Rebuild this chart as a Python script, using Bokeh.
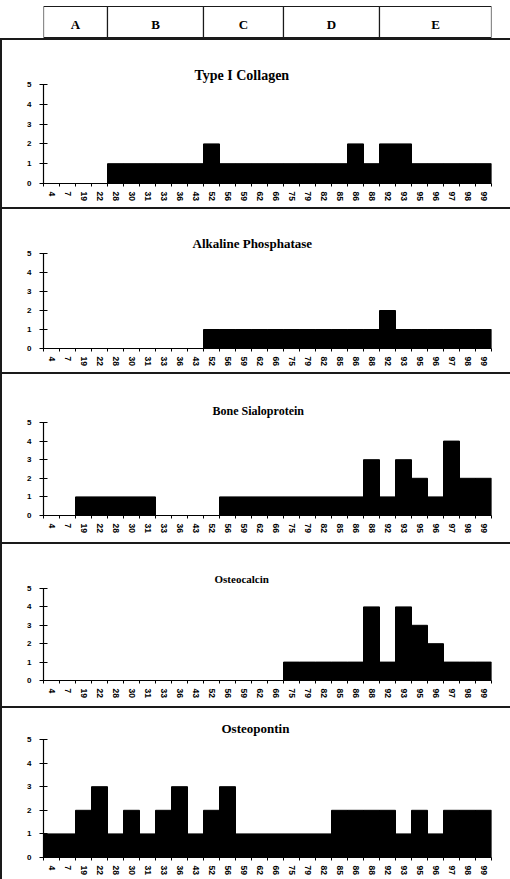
from bokeh.plotting import figure
from bokeh.layouts import column
from bokeh.models import Range1d, LinearAxis, FixedTicker
from bokeh.core.properties import value
from bokeh.embed import file_html
from bokeh.resources import INLINE

# ---------------- data ----------------
categories = ["4", "7", "19", "22", "28", "30", "31", "33", "36", "43", "52", "56",
              "59", "62", "66", "75", "79", "82", "85", "86", "88", "92", "93", "95",
              "96", "97", "98", "99"]

type1_collagen = [0, 0, 0, 0, 1, 1, 1, 1, 1, 1, 2, 1, 1, 1, 1, 1, 1, 1, 1, 2, 1, 2, 2, 1, 1, 1, 1, 1]
alkaline_phosphatase = [0, 0, 0, 0, 0, 0, 0, 0, 0, 0, 1, 1, 1, 1, 1, 1, 1, 1, 1, 1, 1, 2, 1, 1, 1, 1, 1, 1]
bone_sialoprotein = [0, 0, 1, 1, 1, 1, 1, 0, 0, 0, 0, 1, 1, 1, 1, 1, 1, 1, 1, 1, 3, 1, 3, 2, 1, 4, 2, 2]
osteocalcin = [0, 0, 0, 0, 0, 0, 0, 0, 0, 0, 0, 0, 0, 0, 0, 1, 1, 1, 1, 1, 4, 1, 4, 3, 2, 1, 1, 1]
osteopontin = [1, 1, 2, 3, 1, 2, 1, 2, 3, 1, 2, 3, 1, 1, 1, 1, 1, 1, 2, 2, 2, 2, 1, 2, 1, 2, 2, 2]

panel_titles = ["Type I Collagen", "Alkaline Phosphatase", "Bone Sialoprotein",
                "Osteocalcin", "Osteopontin"]
panel_values = [type1_collagen, alkaline_phosphatase, bone_sialoprotein,
                osteocalcin, osteopontin]
y_ticks = [0, 1, 2, 3, 4, 5]

groups = ["A", "B", "C", "D", "E"]
group_first = ["4", "28", "52", "75", "92"]
group_last = ["22", "43", "66", "88", "99"]

# ---------------- layout / style ----------------
W = 510
FL, FR = 43, 19
# (height, border_top, border_bottom, title_offset, title_standoff, title_size)
panel_layout = [
    (169, 46, 24, 151, 4, "14px"),
    (165, 46, 24, 149, 5, "13px"),
    (170, 50, 27, 169, 10, "12px"),
    (164, 46, 26, 171, 8, "11px"),
    (173, 33, 22, 178, 7, "13px"),
]
LINE = "#1a1a1a"
n = len(categories)
slot = list(range(n))                       # category slot index
centers = [i + 0.5 for i in slot]           # slot centres on the x scale
bounds = list(range(n + 1))                 # slot boundaries (Excel-style ticks)
label_map = {c: cat for c, cat in zip(centers, categories)}

# header
hp = figure(width=W, height=38, x_range=Range1d(0, n), y_range=Range1d(-0.032, 1.194),
            x_axis_location=None, y_axis_location=None,
            output_backend="svg", toolbar_location=None,
            min_border_left=FL, min_border_right=FR, min_border_top=0, min_border_bottom=0)
hp.outline_line_color = None
hp.grid.visible = False
g_left = [categories.index(f) for f in group_first]
g_right = [categories.index(l) + 1 for l in group_last]
hp.quad(left=g_left, right=g_right, bottom=0, top=1, fill_color="white",
        line_color=LINE, line_width=1.2)
hp.text(x=[(a + b) / 2 for a, b in zip(g_left, g_right)], y=0.42, text=groups,
        text_align="center", text_baseline="middle",
        text_font=value("Liberation Serif"), text_font_style="bold",
        text_font_size="13px", text_color="black")

figs = [hp]
for title, vals, (h, bt, bb, toff, tstand, tsize) in zip(panel_titles, panel_values, panel_layout):
    p = figure(width=W, height=h, title=title,
               x_range=Range1d(0, n), y_range=Range1d(0, 5),
               x_axis_location=None, y_axis_location=None,
               output_backend="svg", toolbar_location=None,
               min_border_left=FL, min_border_right=FR,
               min_border_top=bt, min_border_bottom=bb,
               styles={"box-shadow": f"inset 2px 2px 0 0 {LINE}"})
    p.border_fill_color = None
    p.background_fill_color = None
    p.outline_line_color = None
    p.grid.visible = False
    p.title.align = "left"
    p.title.offset = toff
    p.title.standoff = tstand
    p.title.text_font = "Liberation Serif"
    p.title.text_font_style = "bold"
    p.title.text_font_size = tsize
    p.title.text_color = "black"

    xax = LinearAxis(ticker=FixedTicker(ticks=centers, minor_ticks=bounds),
                     major_label_overrides=label_map,
                     major_tick_in=0, major_tick_out=0,
                     major_tick_line_color=None,
                     minor_tick_in=0, minor_tick_out=3,
                     minor_tick_line_color="black", minor_tick_line_width=1,
                     axis_line_color="black", axis_line_width=1.2,
                     major_label_orientation="vertical",
                     major_label_standoff=5,
                     major_label_text_font="Liberation Sans",
                     major_label_text_font_style="bold",
                     major_label_text_font_size="8.5px",
                     major_label_text_color="black")
    p.add_layout(xax, "below")

    yax = LinearAxis(ticker=FixedTicker(ticks=y_ticks, minor_ticks=[]),
                     major_tick_in=4, major_tick_out=4,
                     major_tick_line_color="black", axis_line_color="black",
                     axis_line_width=1.2, major_tick_line_width=1.2,
                     minor_tick_line_color=None,
                     major_label_standoff=8,
                     major_label_text_font="Liberation Sans",
                     major_label_text_font_style="bold",
                     major_label_text_font_size="8px",
                     major_label_text_color="black")
    p.add_layout(yax, "left")

    p.vbar(x=centers, top=vals, width=1.0, fill_color="black",
           line_color="black", line_width=1)
    figs.append(p)

layout = column(*figs, spacing=0)
open("out.html", "w").write(file_html(layout, INLINE))
